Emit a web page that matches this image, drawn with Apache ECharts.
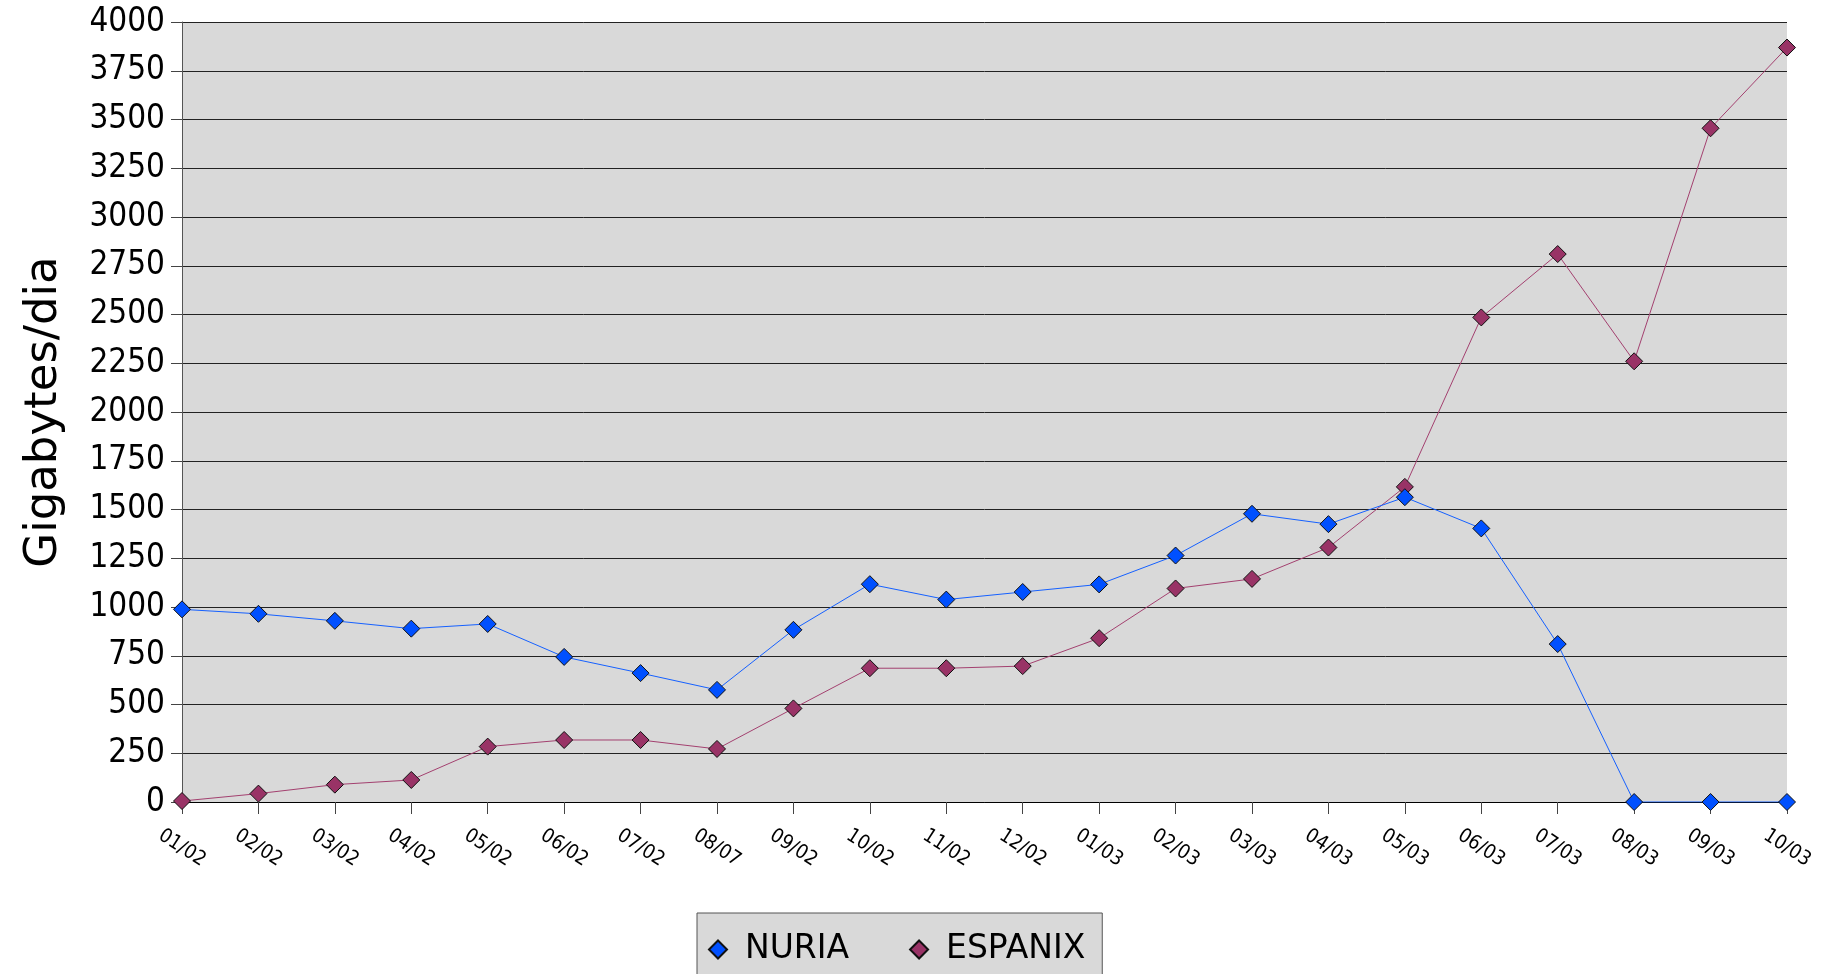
<!DOCTYPE html>
<html>
<head>
<meta charset="utf-8">
<script src="https://cdn.jsdelivr.net/npm/echarts@6/dist/echarts.min.js"></script>
<style>html,body{margin:0;padding:0;background:#fff}#c{width:1822px;height:974px}</style>
</head>
<body>
<div id="c"></div>
<script>
const categories = ['01/02','02/02','03/02','04/02','05/02','06/02','07/02','08/07','09/02','10/02','11/02','12/02','01/03','02/03','03/03','04/03','05/03','06/03','07/03','08/03','09/03','10/03'];
const nuria = [988, 965, 929, 889, 913, 744, 661, 575, 883, 1117, 1038, 1077, 1116, 1264, 1478, 1425, 1563, 1403, 810, 0, 0, 0];
const espanix = [5, 43, 89, 113, 284, 318, 318, 272, 480, 686, 686, 697, 840, 1095, 1144, 1305, 1616, 2485, 2810, 2260, 3455, 3869];
const yTicks = {min: 0, max: 4000, interval: 250};
const yName = 'Gigabytes/dia';

const COND = "'DejaVu Sans Condensed','DejaVu Sans',sans-serif";
const chart = echarts.init(document.getElementById('c'));
chart.setOption({
  animation: false,
  backgroundColor: '#ffffff',
  grid: {left: 182, right: 35, top: 22, bottom: 172, show: true, backgroundColor: '#d9d9d9', borderWidth: 0},
  legend: {
    left: 697, top: 913,
    backgroundColor: '#d9d9d9', borderColor: '#555', borderWidth: 1,
    padding: [20, 17, 40, 11],
    itemGap: 60, itemWidth: 18, itemHeight: 18,
    textStyle: {fontFamily: "'DejaVu Sans',sans-serif", fontSize: 33, color: '#000', padding: [0, 0, 0, 13]},
    data: [{name: 'NURIA', icon: 'diamond'}, {name: 'ESPANIX', icon: 'diamond'}]
  },
  xAxis: {
    type: 'category', data: categories, boundaryGap: false,
    axisLine: {lineStyle: {color: '#000', width: 1}},
    axisTick: {show: true, length: 12, lineStyle: {color: '#444'}, alignWithLabel: true},
    axisLabel: {rotate: -33, align: 'center', verticalAlign: 'middle', margin: 46, interval: 0,
      fontFamily: COND, fontSize: 20, color: '#000'},
    splitLine: {show: false}
  },
  yAxis: {
    type: 'value', min: yTicks.min, max: yTicks.max, interval: yTicks.interval,
    name: yName, nameLocation: 'middle', nameRotate: 90, nameGap: 115,
    nameTextStyle: {fontFamily: "'DejaVu Sans',sans-serif", fontSize: 45, color: '#000'},
    axisLine: {show: true, lineStyle: {color: '#555', width: 1}},
    axisTick: {show: true, length: 11, lineStyle: {color: '#444'}},
    axisLabel: {margin: 17, fontFamily: COND, fontSize: 33, color: '#000', formatter: v => String(v)},
    splitLine: {show: true, lineStyle: {color: '#222', width: 1}}
  },
  series: [
    {name: 'NURIA', type: 'line', data: nuria, symbol: 'diamond', symbolSize: 17,
      lineStyle: {color: '#1560ff', width: 1},
      itemStyle: {color: '#0050ff', borderColor: '#111', borderWidth: 1}, z: 3},
    {name: 'ESPANIX', type: 'line', data: espanix, symbol: 'diamond', symbolSize: 17,
      lineStyle: {color: '#a3406f', width: 1},
      itemStyle: {color: '#993366', borderColor: '#111', borderWidth: 1}, z: 2}
  ]
});
</script>
</body>
</html>
